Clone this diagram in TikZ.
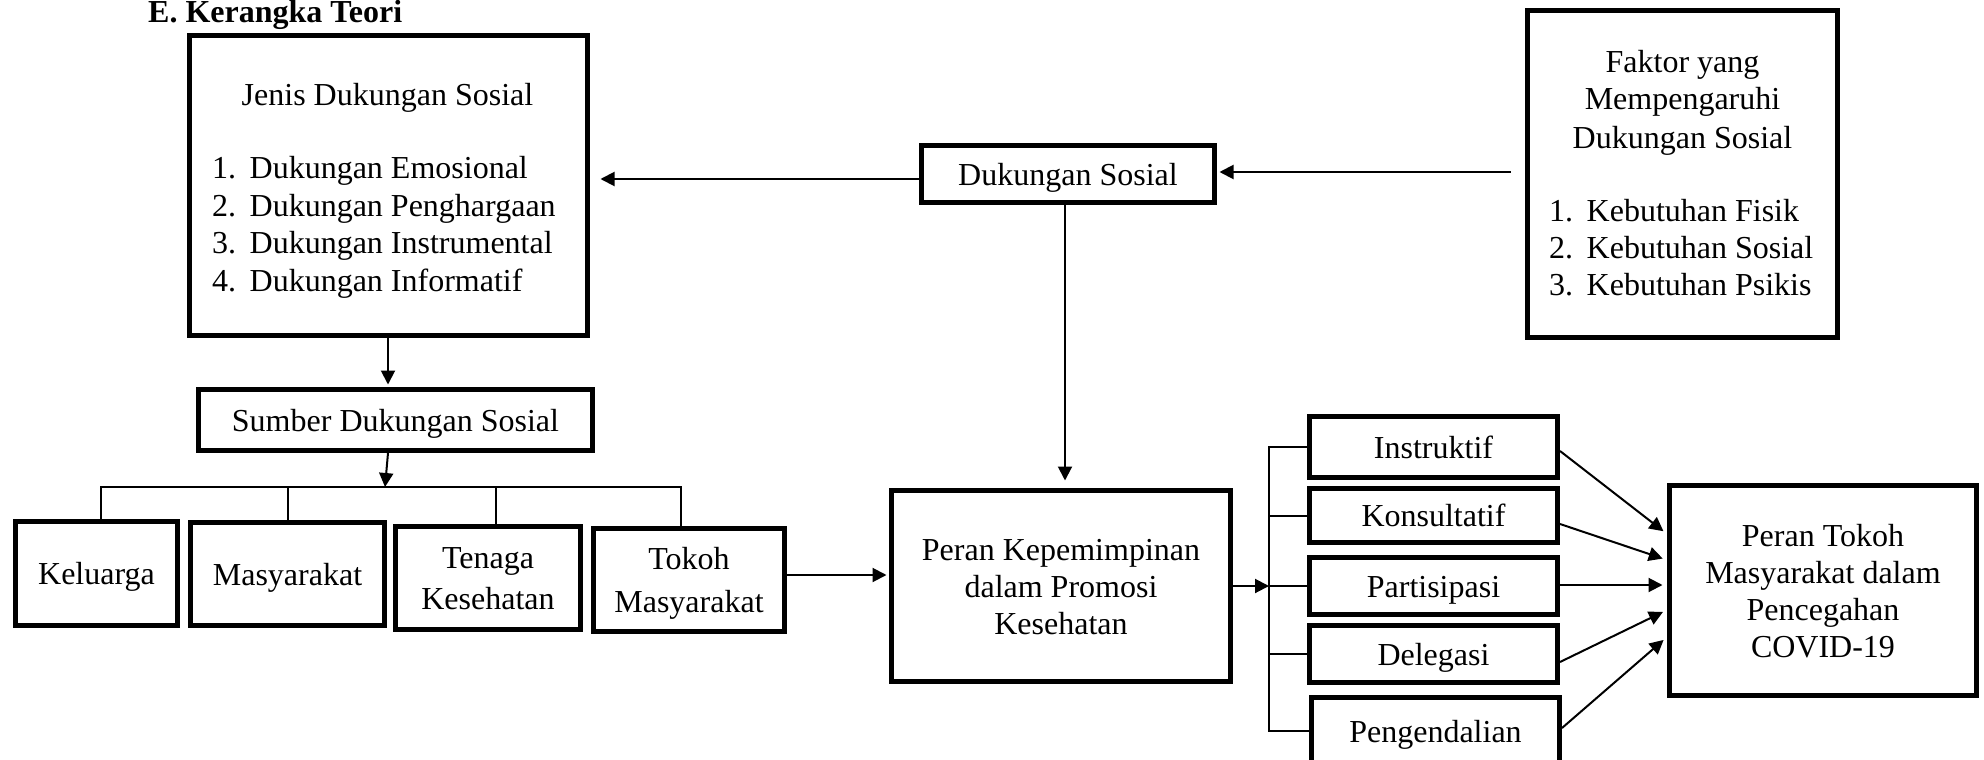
\documentclass[tikz,border=0pt]{standalone}
\usepackage{fontspec}
\setmainfont{Liberation Serif}
\usetikzlibrary{arrows.meta}
\newcommand\fz{\fontsize{32}{37}\selectfont}
\newcommand\tstr{\rule{0pt}{30pt}}
\newcommand\bstr{\rule[-8pt]{0pt}{8pt}}
\newcommand\itemno[1]{\makebox[37.5pt][l]{#1}}
\tikzset{
  box/.style={draw, line width=5pt, inner sep=0pt, align=center, font=\fz},
  sbox/.style={box, text height=30pt, text depth=8pt},
  lbl/.style={inner sep=0pt, font=\fz},
  conn/.style={line width=2pt},
  arr/.style={line width=2pt, -{Triangle[length=14pt,width=14pt]}},
}
\begin{document}
\begin{tikzpicture}[x=1pt,y=-1pt]
\useasboundingbox (0,0) rectangle (1984,760);

% title
\node[lbl, font=\fz\bfseries, anchor=base west] (title) at (148,23) {E. Kerangka Teori};

% Jenis Dukungan Sosial
\node[box, minimum width=398pt, minimum height=300pt] (jenis) at (388.5,185.5) {};
\node[lbl, anchor=base] (jt) at (387.5,106) {Jenis Dukungan Sosial};
\node[lbl, anchor=base west] (j1) at (212,178) {\itemno{1.}Dukungan Emosional};
\node[lbl, anchor=base west] (j2) at (212,216) {\itemno{2.}Dukungan Penghargaan};
\node[lbl, anchor=base west] (j3) at (212,253) {\itemno{3.}Dukungan Instrumental};
\node[lbl, anchor=base west] (j4) at (212,291) {\itemno{4.}Dukungan Informatif};

% Dukungan Sosial
\node[sbox, minimum width=293pt, minimum height=57pt] (duk) at (1068,174) {Dukungan Sosial};

% Faktor
\node[box, minimum width=310pt, minimum height=327pt] (faktor) at (1682.5,174) {};
\node[lbl, anchor=base] (f1) at (1682.5,73) {Faktor yang};
\node[lbl, anchor=base] (f2) at (1682.5,110) {Mempengaruhi};
\node[lbl, anchor=base] (f3) at (1682.5,148) {Dukungan Sosial};
\node[lbl, anchor=base west] (fa) at (1549,221) {\itemno{1.}Kebutuhan Fisik};
\node[lbl, anchor=base west] (fb) at (1549,258) {\itemno{2.}Kebutuhan Sosial};
\node[lbl, anchor=base west] (fc) at (1549,295) {\itemno{3.}Kebutuhan Psikis};

% Sumber
\node[sbox, minimum width=394pt, minimum height=61pt] (sumber) at (395.5,420) {Sumber Dukungan Sosial};

% sources
\node[sbox, minimum width=162pt, minimum height=104pt] (kel) at (96.5,573.5) {Keluarga};
\node[sbox, minimum width=194pt, minimum height=103pt] (masy) at (287.5,574) {Masyarakat};
\node[box, minimum width=185pt, minimum height=103pt] (ten) at (488,578) {\tstr Tenaga\\[4pt] Kesehatan\bstr};
\node[box, minimum width=191pt, minimum height=103pt] (tok) at (689,580) {\tstr Tokoh\\[6pt] Masyarakat\bstr};

% Peran Kepemimpinan
\node[box, minimum width=339pt, minimum height=191pt] (kep) at (1061,586) {\tstr Peran Kepemimpinan\\ dalam Promosi\\ Kesehatan\bstr};

% styles
\node[sbox, minimum width=248pt, minimum height=61pt] (ins) at (1433.5,447) {Instruktif};
\node[sbox, minimum width=248pt, minimum height=54pt] (kon) at (1433.5,515.5) {Konsultatif};
\node[sbox, minimum width=248pt, minimum height=57pt] (par) at (1433.5,586) {Partisipasi};
\node[sbox, minimum width=248pt, minimum height=57pt] (del) at (1433.5,654) {Delegasi};
\node[sbox, minimum width=248pt, minimum height=67pt] (pen) at (1435.5,731) {Pengendalian};

% Peran Tokoh
\node[box, minimum width=307pt, minimum height=210pt] (ptok) at (1823,590.5) {\tstr Peran Tokoh\\ Masyarakat dalam\\ Pencegahan\\ COVID-19\bstr};

% connectors
\coordinate (d1) at ([yshift=-5pt]duk.west);
\draw[arr, shorten >=10.5pt] (d1) -- (d1 -| jenis.east);
\coordinate (f0) at ([xshift=-14.5pt,yshift=2pt]faktor.west);
\draw[arr, shorten >=2.5pt] (f0) -- (f0 -| duk.east);
\draw[arr, shorten >=7.5pt] ([xshift=-3pt]duk.south) -- ([xshift=-3pt]duk.south |- kep.north);

\draw[arr, shorten >=2.5pt] ([xshift=-0.5pt]jenis.south) -- ([xshift=-0.5pt]jenis.south |- sumber.north);
\coordinate (hub) at (385,487);
\draw[arr] ([xshift=-7.5pt]sumber.south) -- (hub);
\draw[conn] ([xshift=4.5pt]kel.north) |- ([xshift=-8pt]tok.north |- hub) -- ([xshift=-8pt]tok.north);
\draw[conn] (masy.north) -- (masy.north |- hub);
\draw[conn] ([xshift=8pt]ten.north) -- ([xshift=8pt]ten.north |- hub);

\draw[arr, shorten >=2.5pt] ([yshift=5pt]tok.east) -- ([yshift=5pt]tok.east -| kep.west);

\coordinate (bt) at (1269,447);
\coordinate (bb) at (1269,731);
\draw[arr] (kep.east) -- (kep.east -| bt);
\draw[conn] (ins.west) -| (bb) -- (pen.west);
\draw[conn] (kon.west) -- (kon.west -| bt);
\draw[conn] (par.west) -- (par.west -| bt);
\draw[conn] (del.west) -- (del.west -| bt);

\draw[arr, shorten >=4.5pt] ([yshift=-4pt]ins.east) -- ([yshift=56.5pt]ptok.west);
\draw[arr, shorten >=4.5pt] ([yshift=-8.5pt]kon.east) -- ([yshift=30.5pt]ptok.west);
\draw[arr, shorten >=4.5pt] ([yshift=1pt]par.east) -- ([yshift=5.5pt]ptok.west);
\draw[arr, shorten >=4.5pt] ([yshift=-8pt]del.east) -- ([yshift=-19.5pt]ptok.west);
\draw[arr, shorten >=4.5pt] ([yshift=3pt]pen.east) -- ([yshift=-46.5pt]ptok.west);
\end{tikzpicture}
\end{document}
